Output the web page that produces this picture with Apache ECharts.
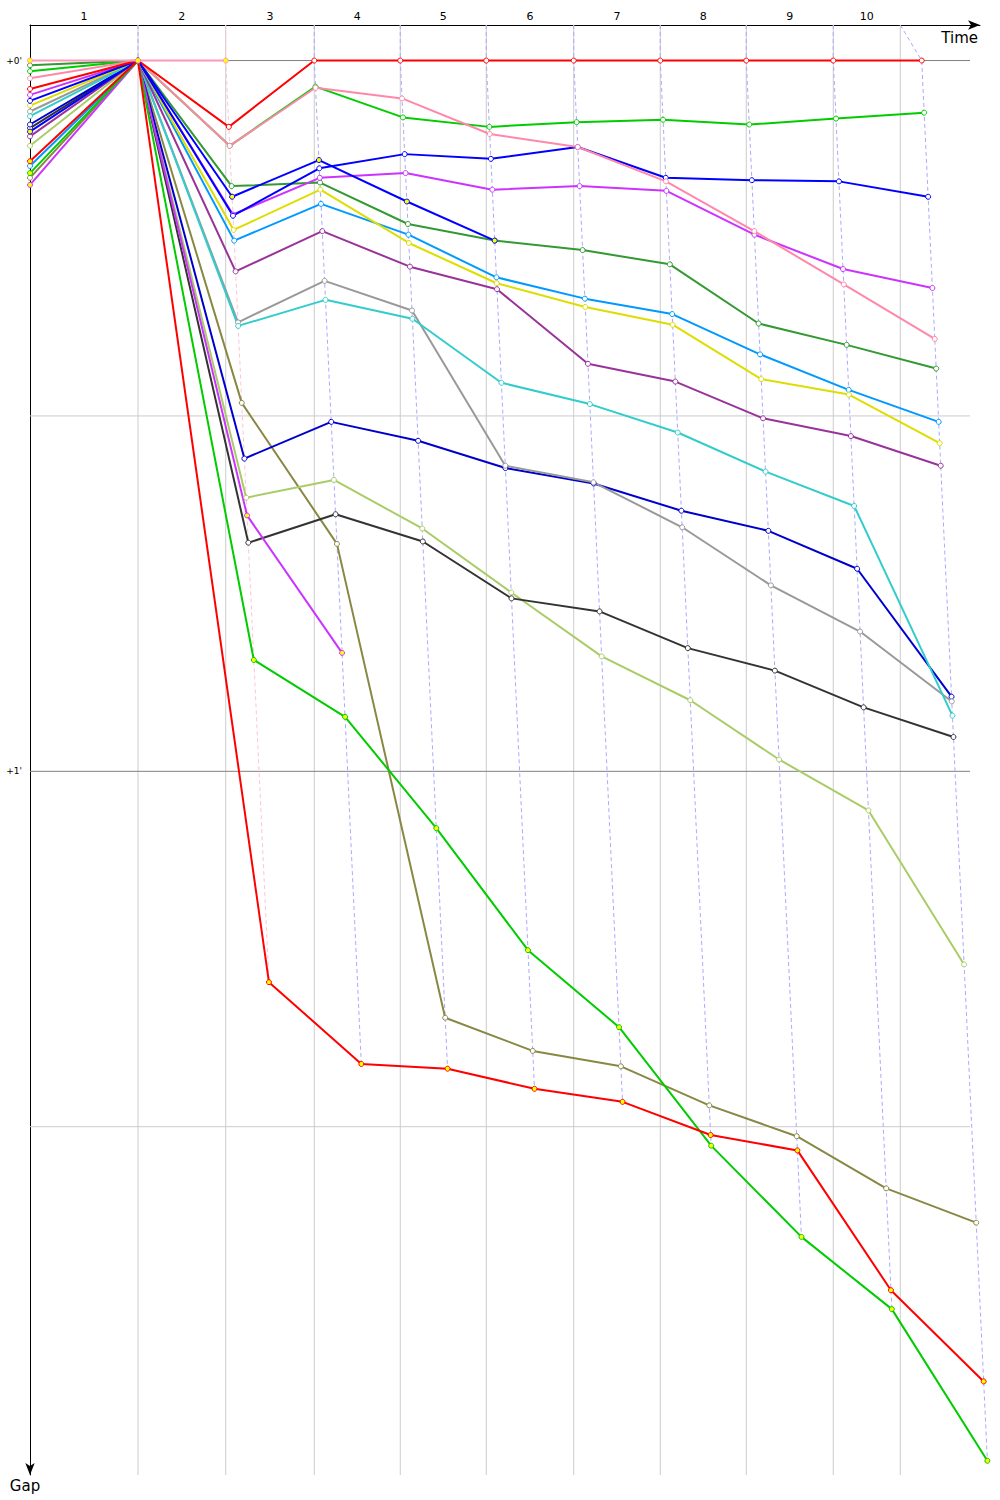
<!DOCTYPE html>
<html>
<head>
<meta charset="utf-8">
<title>Gap chart</title>
<script src="https://cdn.jsdelivr.net/npm/echarts@6.0.0/dist/echarts.min.js"></script>
<style>
  html, body { margin: 0; padding: 0; background: #fff; }
  #chart { width: 1000px; height: 1500px; }
</style>
</head>
<body>
<div id="chart"></div>
<script>
// lap numbers written along the time axis
const lapLabels = ['1', '2', '3', '4', '5', '6', '7', '8', '9', '10'];
// race time (s) of each lap grid line
const lapGridTimes = [0, 157.9, 317.3, 472.1, 626.9, 784.3, 940.1, 1094.9, 1251.5, 1372.1];
const timeMin = -194.4;
const timeMax = 1515.6;
// same scale, but running to the page edge so late finishers are not cut
const timeMaxWide = 1551.6;
const gapMin = -3;
const gapMax = 119.4;
const gapLabelTicks = [0, 60];
const gapMajorLines = [0, 60];
const gapMinorLines = [30, 90];
const gapLineEnd = 1497.6;

// [race time s, gap to leader s]; first point is the start column
const redLeader = [[-194.4, 2.4], [0, 0], [163.5, 5.6], [317.3, 0], [472.1, 0], [626.9, 0], [784.3, 0], [940.1, 0], [1094.9, 0], [1251.5, 0], [1410.7, 0]];
const pinkPole = [[-194.4, 0], [0, 0], [157.9, 0]];
const pink = [[-194.4, 1.5], [0, 0], [165.1, 7.2], [319.6, 2.3], [475.3, 3.2], [633.1, 6.2], [791.6, 7.3], [950.3, 10.2], [1109.3, 14.4], [1270.4, 18.9], [1434.2, 23.5]];
const green = [[-194.4, 0.9], [0, 0], [165.1, 7.2], [319.5, 2.2], [476.9, 4.8], [632.5, 5.6], [789.5, 5.2], [945.1, 5.0], [1100.3, 5.4], [1256.4, 4.9], [1415.1, 4.4]];
const darkGreen = [[-194.4, 0.4], [0, 0], [168.5, 10.6], [327.6, 10.3], [485.9, 13.8], [642.1, 15.2], [800.3, 16.0], [957.3, 17.2], [1117.1, 22.2], [1275.5, 24.0], [1436.7, 26.0]];
const blue = [[-194.4, 3.4], [0, 0], [171.0, 13.1], [326.4, 9.1], [480.0, 7.9], [635.2, 8.3], [791.6, 7.3], [950.0, 9.9], [1105.0, 10.1], [1261.7, 10.2], [1422.2, 11.5]];
const blueOut = [[-194.4, 6.0], [0, 0], [169.4, 11.5], [325.7, 8.4], [484.0, 11.9], [642.1, 15.2]];
const magenta = [[-194.4, 2.9], [0, 0], [170.9, 13.0], [327.2, 9.9], [481.6, 9.5], [637.8, 10.9], [794.9, 10.6], [951.1, 11.0], [1109.6, 14.7], [1269.1, 17.6], [1429.9, 19.2]];
const yellow = [[-194.4, 3.8], [0, 0], [172.2, 14.3], [328.2, 10.9], [487.5, 15.4], [645.7, 18.8], [805.1, 20.8], [962.4, 22.3], [1121.8, 26.9], [1279.7, 28.2], [1443.0, 32.3]];
const lightBlue = [[-194.4, 8.9], [0, 0], [173.1, 15.2], [329.4, 12.1], [486.8, 14.7], [645.2, 18.3], [804.4, 20.1], [961.5, 21.4], [1119.7, 24.8], [1279.3, 27.8], [1441.2, 30.5]];
const purple = [[-194.4, 6.4], [0, 0], [175.7, 17.8], [331.7, 14.4], [489.5, 17.4], [646.2, 19.3], [809.9, 25.6], [967.2, 27.1], [1125.1, 30.2], [1283.2, 31.7], [1444.9, 34.2]];
const gray = [[-194.4, 4.3], [0, 0], [180.0, 22.1], [335.9, 18.6], [493.2, 21.1], [661.1, 34.2], [819.9, 35.6], [979.5, 39.4], [1139.2, 44.3], [1299.7, 48.2], [1464.8, 54.1]];
const cyan = [[-194.4, 4.7], [0, 0], [180.3, 22.4], [337.5, 20.2], [493.9, 21.8], [654.1, 27.2], [813.3, 29.0], [971.5, 31.4], [1129.6, 34.7], [1289.1, 37.6], [1466.0, 55.3]];
const darkBlue = [[-194.4, 5.4], [0, 0], [191.5, 33.6], [347.8, 30.5], [504.2, 32.1], [661.3, 34.4], [820.1, 35.7], [978.1, 38.0], [1134.6, 39.7], [1294.4, 42.9], [1464.4, 53.7]];
const olive = [[-194.4, 9.9], [0, 0], [186.8, 28.9], [358.1, 40.8], [552.9, 80.8], [710.5, 83.6], [869.2, 84.9], [1028.3, 88.2], [1185.7, 90.8], [1346.7, 95.2], [1508.8, 98.1]];
const lightOlive = [[-194.4, 7.2], [0, 0], [194.8, 36.9], [352.7, 35.4], [511.6, 39.5], [671.8, 44.9], [834.6, 50.3], [994.1, 54.0], [1153.9, 59.0], [1314.8, 63.3], [1487.0, 76.3]];
const magentaOut = [[-194.4, 10.5], [0, 0], [196.3, 38.4], [367.3, 50.0]];
const black = [[-194.4, 5.7], [0, 0], [198.6, 40.7], [355.6, 38.3], [512.7, 40.6], [672.3, 45.4], [830.8, 46.5], [989.7, 49.6], [1146.4, 51.5], [1306.1, 54.6], [1467.8, 57.1]];
const greenBack = [[-194.4, 9.5], [0, 0], [208.5, 50.6], [372.7, 55.4], [536.9, 64.8], [702.0, 75.1], [865.9, 81.6], [1031.7, 91.6], [1194.2, 99.3], [1356.9, 105.4], [1528.9, 118.2]];
const redBack = [[-194.4, 8.5], [0, 0], [235.7, 77.8], [402.0, 84.7], [557.2, 85.1], [713.7, 86.8], [872.2, 87.9], [1030.8, 90.7], [1186.9, 92.0], [1355.3, 103.8], [1522.2, 111.5]];

const WHITE = '#ffffff';
const YELLOW = '#ffff00';
const drivers = [
  { data: olive, color: '#888844', fill: WHITE },
  { data: lightOlive, color: '#aacc66', fill: WHITE },
  { data: black, color: '#333333', fill: WHITE },
  { data: darkBlue, color: '#0000cc', fill: WHITE },
  { data: gray, color: '#999999', fill: WHITE },
  { data: cyan, color: '#33cccc', fill: WHITE },
  { data: purple, color: '#993399', fill: WHITE },
  { data: lightBlue, color: '#0099ff', fill: WHITE },
  { data: yellow, color: '#dddd00', fill: WHITE },
  { data: darkGreen, color: '#339933', fill: WHITE },
  { data: magenta, color: '#cc33ff', fill: WHITE },
  { data: blue, color: '#0000ff', fill: WHITE },
  { data: green, color: '#00cc00', fill: WHITE },
  { data: pink, color: '#ff88aa', fill: WHITE },
  { data: redLeader, color: '#ff0000', fill: WHITE },
  { data: blueOut, color: '#0000ff', fill: YELLOW },
  { data: magentaOut, color: '#cc33ff', fill: YELLOW },
  { data: greenBack, color: '#00cc00', fill: YELLOW },
  { data: redBack, color: '#ff0000', fill: YELLOW },
  { data: pinkPole, color: '#ff99bb', fill: YELLOW }
];

// label positions: middle of each lap span
const lapBounds = [timeMin].concat(lapGridTimes);
const lapMids = lapLabels.map((_, i) => (lapBounds[i] + lapBounds[i + 1]) / 2);

const series = [];

// grid lines (on the visible axes)
lapGridTimes.forEach(t => {
  series.push({
    type: 'line', silent: true, symbol: 'none', z: 0,
    xAxisIndex: 0, yAxisIndex: 0,
    data: [[t, gapMin], [t, gapMax]],
    lineStyle: { color: '#cccccc', width: 1 }
  });
});
gapMinorLines.concat(gapMajorLines).forEach(g => {
  series.push({
    type: 'line', silent: true, symbol: 'none', z: 0,
    xAxisIndex: 0, yAxisIndex: 0,
    data: [[timeMin, g], [gapLineEnd, g]],
    lineStyle: { color: gapMajorLines.includes(g) ? '#808080' : '#cccccc', width: 1 }
  });
});

// dashed lap lines: join every driver's point of the same lap
for (let lap = 1; lap <= lapLabels.length; lap++) {
  const pts = drivers
    .filter(d => d.data.length > lap)
    .map(d => d.data[lap])
    .sort((a, b) => a[1] - b[1]);
  series.push({
    type: 'line', silent: true, symbol: 'none', z: 1, clip: false,
    xAxisIndex: 1, yAxisIndex: 1,
    data: [[lapGridTimes[lap - 1], gapMin]].concat(pts),
    lineStyle: { color: lap === 2 ? '#ffc4d4' : '#aaaaff', width: 1, type: [4, 3] }
  });
}

// driver lines
drivers.forEach(d => {
  series.push({
    type: 'line', z: 3, clip: false,
    xAxisIndex: 1, yAxisIndex: 1,
    data: d.data,
    symbol: 'circle', symbolSize: 5, showAllSymbol: true,
    lineStyle: { color: d.color, width: 2 },
    itemStyle: { color: d.fill, borderColor: d.color, borderWidth: 1 },
    emphasis: { disabled: true }
  });
});

const chart = echarts.init(document.getElementById('chart'), null, { renderer: 'svg' });
chart.setOption({
  animation: false,
  backgroundColor: '#ffffff',
  textStyle: { fontFamily: 'DejaVu Sans' },
  grid: [
    { left: 30, right: 20, top: 25, bottom: 25 },
    { left: 30, right: 0, top: 25, bottom: 25 }
  ],
  xAxis: [{
    type: 'value', position: 'top', min: timeMin, max: timeMax, gridIndex: 0,
    axisLine: { show: true, onZero: false, lineStyle: { color: '#000', width: 1 }, symbol: ['none', 'arrow'], symbolSize: [7, 12] },
    axisTick: { show: false },
    splitLine: { show: false },
    axisLabel: {
      customValues: lapMids,
      formatter: v => {
        let best = 0;
        lapMids.forEach((m, i) => { if (Math.abs(m - v) < Math.abs(lapMids[best] - v)) best = i; });
        return lapLabels[best];
      },
      color: '#000', fontSize: 11, margin: 3
    },
    name: 'Time', nameLocation: 'end', nameGap: -2,
    nameTextStyle: { color: '#000', fontSize: 15, align: 'right', verticalAlign: 'top', padding: [5, 0, 0, 0] }
  }, {
    type: 'value', min: timeMin, max: timeMaxWide, gridIndex: 1, show: false
  }],
  yAxis: [{
    type: 'value', inverse: true, min: gapMin, max: gapMax, gridIndex: 0,
    axisLine: { show: true, onZero: false, lineStyle: { color: '#000', width: 1 }, symbol: ['arrow', 'none'], symbolSize: [7, 12] },
    axisTick: { show: false },
    splitLine: { show: false },
    axisLabel: {
      customValues: gapLabelTicks,
      formatter: v => '+' + Math.round(v / 60) + "'",
      color: '#000', fontSize: 9, margin: 8
    },
    name: 'Gap', nameLocation: 'end', nameGap: 3,
    nameTextStyle: { color: '#000', fontSize: 15, align: 'center', verticalAlign: 'top', padding: [0, 10, 0, 0] }
  }, {
    type: 'value', inverse: true, min: gapMin, max: gapMax, gridIndex: 1, show: false
  }],
  series: series
});
</script>
</body>
</html>
